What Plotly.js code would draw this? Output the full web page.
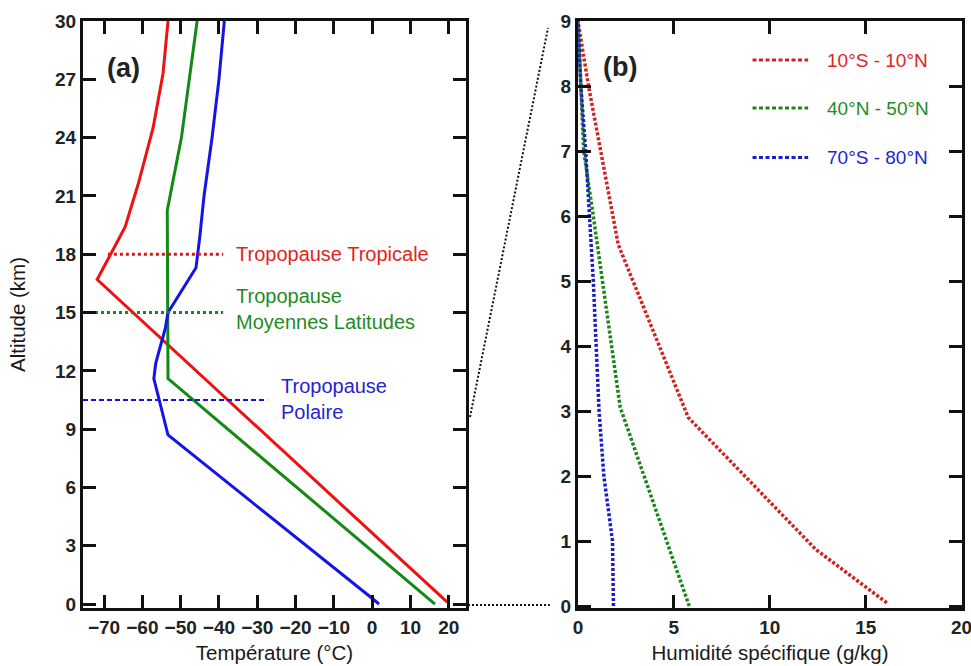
<!DOCTYPE html>
<html>
<head>
<meta charset="utf-8">
<script src="https://cdn.plot.ly/plotly-3.0.1.min.js"></script>
<style>html,body{margin:0;padding:0;background:#fff;}#chart{width:971px;height:666px;}</style>
</head>
<body>
<div id="chart"></div>
<script>
// Panel (a): temperature profiles (°C) vs altitude (km)
const tempTropical = [19.6, -71.8, -64.5, -61.1, -57.2, -54.6, -53.3];
const altTropical  = [0.1, 16.7, 19.4, 21.6, 24.5, 27.3, 30];
const tempMidLat   = [16.4, -53.3, -53.5, -49.8, -45.7];
const altMidLat    = [0, 11.6, 20.25, 24, 30];
const tempPolar    = [1.8, 0.3, -53.3, -57, -56.5, -54, -53.3, -46, -45, -43.9, -41.8, -40, -38.6];
const altPolar     = [0, 0.25, 8.7, 11.6, 12.4, 14.2, 15, 17.3, 18.9, 21, 24, 27, 30];

// Tropopause heights (km) and extents of the marker lines (°C)
const tropoNames = ["Tropopause Tropicale", "Tropopause<br>Moyennes Latitudes", "Tropopause<br>Polaire"];
const tropoAlt   = [18, 15, 10.5];
const tropoFrom  = [-69, -75.5, -75.5];
const tropoTo    = [-38.9, -38.9, -27.4];
const tropoLabelX = [-36.2, -36.2, -24.3];
const tropoLabelY = [18, 15.2, 10.55];

// Panel (b): specific humidity (g/kg) vs altitude (km)
const seriesNames = ["10°S - 10°N", "40°N - 50°N", "70°S - 80°N"];
const qTropical = [16.1, 12.4, 5.75, 2.1, 0.55, 0];
const zTropical = [0.05, 0.87, 2.9, 5.56, 8, 9];
const qMidLat   = [5.8, 2.2, 0.8, 0.3, 0.15, 0];
const zMidLat   = [0, 3.06, 6, 7, 8, 9];
const qPolar    = [1.85, 1.8, 1.35, 1.1, 0.95, 0.8, 0.6, 0.4, 0.15, 0];
const zPolar    = [0, 1, 2, 3, 4, 5, 6, 7, 8, 9];

const lineCol = ["#ee1111", "#138a13", "#1414e6"];
const textCol = ["#e02424", "#1f8c1f", "#2424d0"];
const dotCol  = ["#d02222", "#1a861a", "#1c1cc8"];
const FONT = "Liberation Sans, Arial, sans-serif";

const traces = [
  {x: tempTropical, y: altTropical, xaxis: 'x', yaxis: 'y', mode: 'lines', line: {color: lineCol[0], width: 3}},
  {x: tempMidLat, y: altMidLat, xaxis: 'x', yaxis: 'y', mode: 'lines', line: {color: lineCol[1], width: 3}},
  {x: tempPolar, y: altPolar, xaxis: 'x', yaxis: 'y', mode: 'lines', line: {color: lineCol[2], width: 3}},
];
const tropoDash = ["3px,3px", "3px,3px", "5px,3px"];
const tropoWidth = [3, 3, 2];
tropoAlt.forEach((z, i) => {
  traces.push({x: [tropoFrom[i], tropoTo[i]], y: [z, z], xaxis: 'x', yaxis: 'y', mode: 'lines',
    line: {color: lineCol[i], width: tropoWidth[i], dash: tropoDash[i]}});
});
[[qTropical, zTropical], [qMidLat, zMidLat], [qPolar, zPolar]].forEach((s, i) => {
  traces.push({x: s[0], y: s[1], xaxis: 'x2', yaxis: 'y2', mode: 'lines', name: seriesNames[i],
    line: {color: dotCol[i], width: 3.5, dash: "3px,2px"}});
});

const tickFont = {family: FONT, size: 19, color: '#222', weight: 'bold'};
const titleFont = {family: FONT, size: 20.5, color: '#1a1a1a'};
const axBase = {showline: true, linewidth: 3, linecolor: '#111', mirror: 'ticks', ticks: 'inside',
  ticklen: 13, tickwidth: 3, tickcolor: '#111', showgrid: false, zeroline: false, tickfont: tickFont,
  ticklabeloverflow: 'allow'};

const annotations = [];
tropoNames.forEach((t, i) => {
  annotations.push({x: tropoLabelX[i], y: tropoLabelY[i], xref: 'x', yref: 'y', text: t, showarrow: false,
    xanchor: 'left', yanchor: 'middle', align: 'left', font: {family: FONT, size: 20, color: textCol[i]}});
});
annotations.push({x: -65, y: 27.6, xref: 'x', yref: 'y', text: '(a)', showarrow: false,
  font: {family: FONT, size: 27, color: '#222', weight: 'bold'}});
annotations.push({x: 2.19, y: 8.3, xref: 'x2', yref: 'y2', text: '(b)', showarrow: false,
  font: {family: FONT, size: 27, color: '#222', weight: 'bold'}});

// legend of panel (b)
const legY = [8.4, 7.66, 6.9];
const shapes = [];
seriesNames.forEach((n, i) => {
  shapes.push({type: 'line', xref: 'x2', yref: 'y2', x0: 9.1, x1: 12.0, y0: legY[i], y1: legY[i],
    line: {color: dotCol[i], width: 3, dash: "4px,2.5px"}});
  annotations.push({x: 12.9, y: legY[i], xref: 'x2', yref: 'y2', text: n, showarrow: false,
    xanchor: 'left', yanchor: 'middle', font: {family: FONT, size: 19, color: textCol[i]}});
});
// zoom connectors between panels
shapes.push({type: 'line', xref: 'paper', yref: 'paper', x0: 0.4403, y0: 0.3254, x1: 0.529, y1: 0.988,
  line: {color: '#111', width: 2, dash: '2px,2px'}});
shapes.push({type: 'line', xref: 'paper', yref: 'paper', x0: 0.438, y0: 0.005, x1: 0.531, y1: 0.005,
  line: {color: '#111', width: 2, dash: '2px,2px'}});

const layout = {
  width: 971, height: 666,
  margin: {l: 83, r: 9, t: 21, b: 58},
  paper_bgcolor: '#fff', plot_bgcolor: '#fff',
  showlegend: false,
  xaxis: Object.assign({}, axBase, {domain: [0, 0.4357], range: [-75.5, 24.5], dtick: 10, tick0: 0,
    anchor: 'y', title: {text: 'Température (°C)', font: titleFont, standoff: 9}}),
  yaxis: Object.assign({}, axBase, {range: [-0.2, 30], dtick: 3, tick0: 0, anchor: 'x',
    title: {text: 'Altitude (km)', font: titleFont, standoff: 24}}),
  xaxis2: Object.assign({}, axBase, {domain: [0.5631, 1], range: [0, 20.02], dtick: 5, tick0: 0,
    anchor: 'y2', title: {text: 'Humidité spécifique (g/kg)', font: titleFont, standoff: 9}}),
  yaxis2: Object.assign({}, axBase, {range: [-0.03, 9], dtick: 1, tick0: 0, anchor: 'x2'}),
  annotations: annotations,
  shapes: shapes
};

Plotly.newPlot('chart', traces, layout, {staticPlot: true});
</script>
</body>
</html>
